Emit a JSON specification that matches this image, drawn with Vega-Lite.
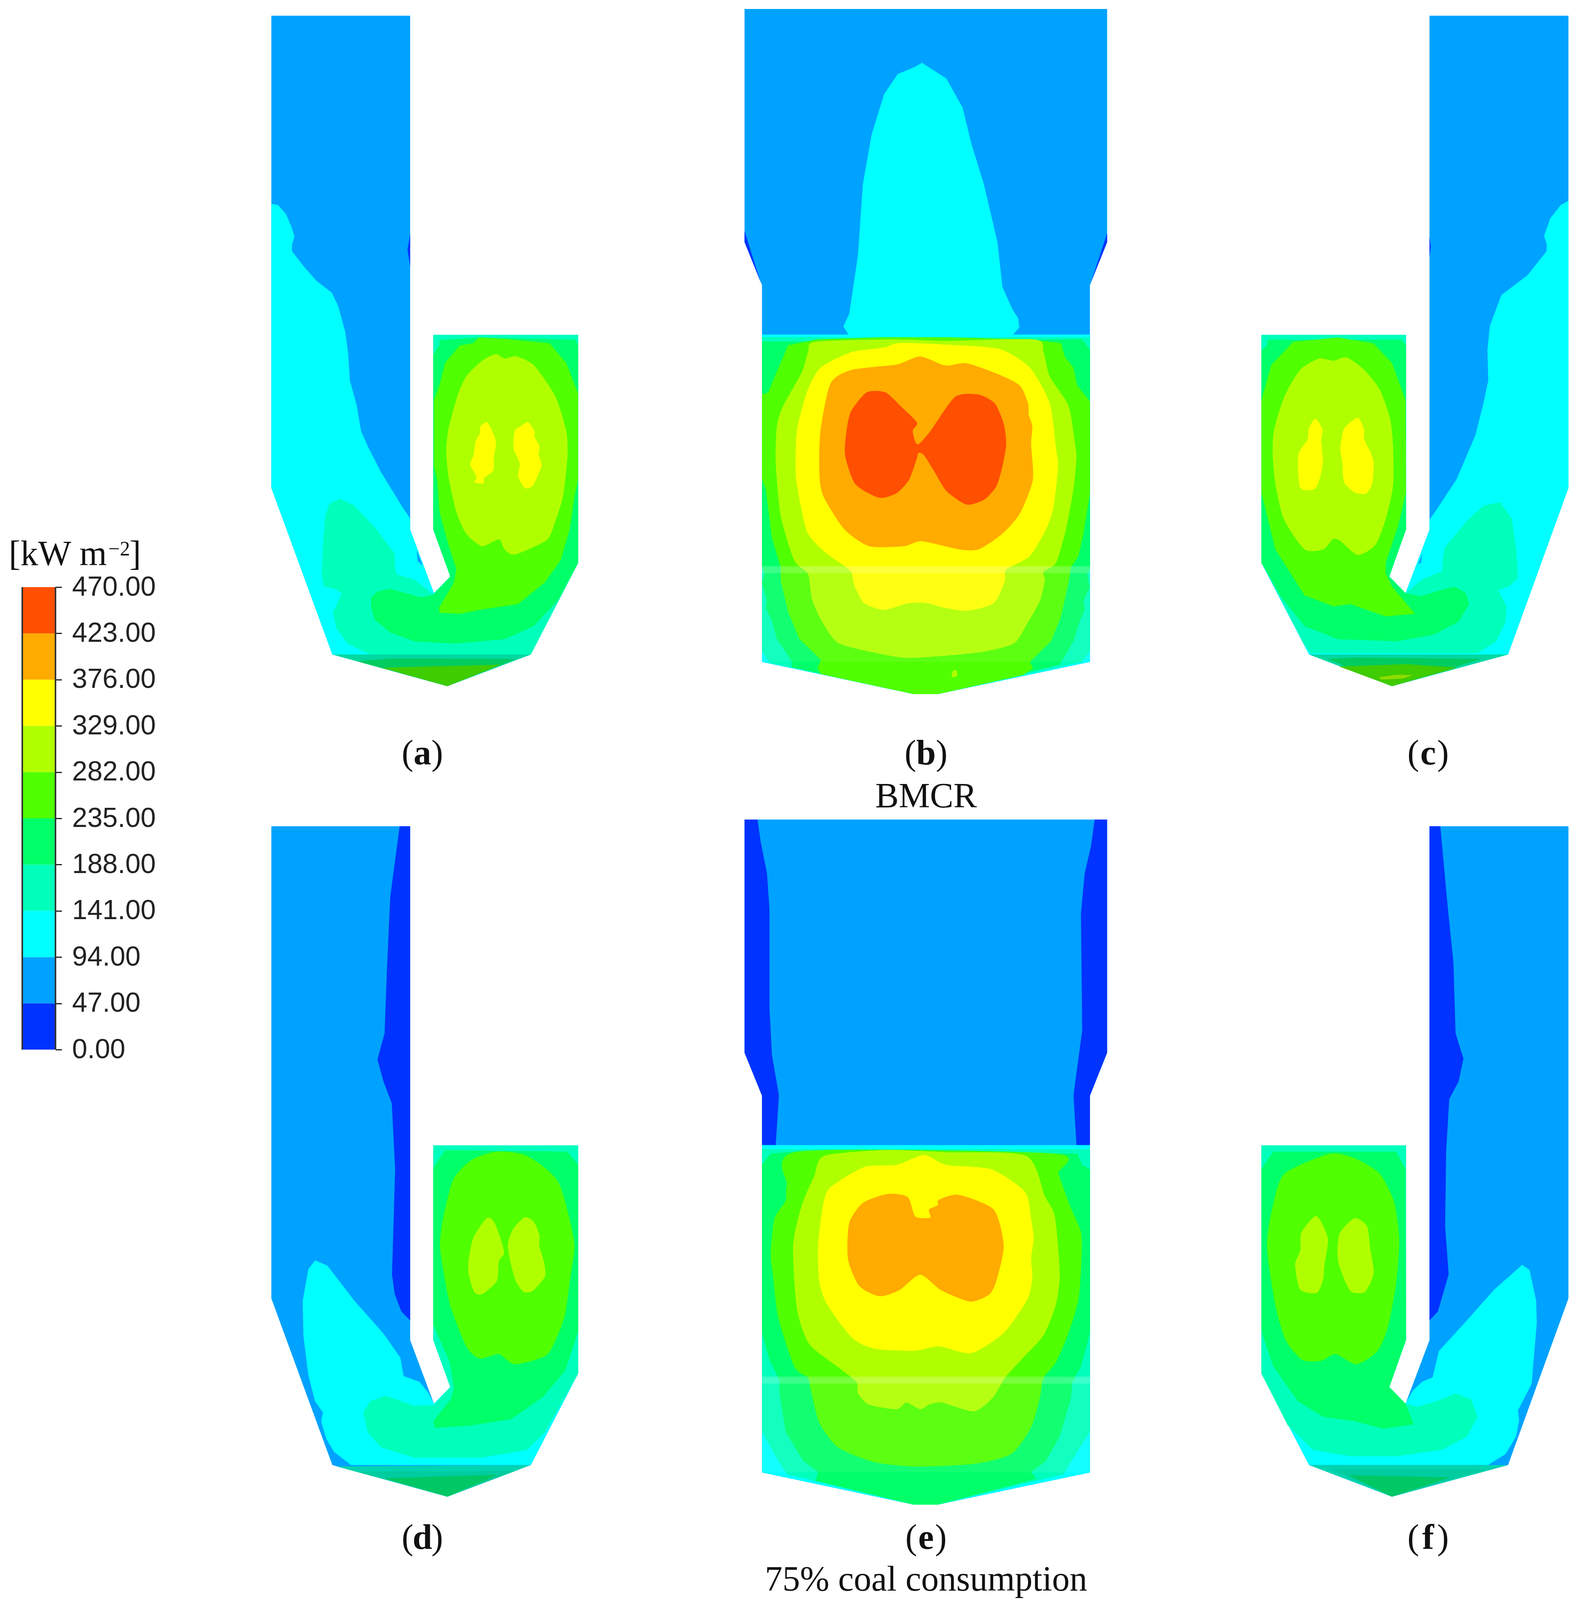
{"$schema":"https://vega.github.io/schema/vega-lite/v6.json","autosize":{"type":"none"},"padding":0,"width":4036,"height":4236,"background":"white","config":{"view":{"stroke":null}},
"datasets":{
"a":[
{"s":1,"l":"1","x":60,"y":18},{"s":1,"l":"1","x":679,"y":18},{"s":1,"l":"1","x":679,"y":1190},{"s":1,"l":"1","x":785,"y":1335},{"s":1,"l":"1","x":858,"y":1297},{"s":1,"l":"1","x":782,"y":1190},{"s":1,"l":"1","x":782,"y":746},{"s":1,"l":"1","x":1428,"y":746},{"s":1,"l":"1","x":1428,"y":1266},{"s":1,"l":"1","x":1217,"y":1475},{"s":1,"l":"1","x":845,"y":1547},{"s":1,"l":"1","x":332,"y":1475},{"s":1,"l":"1","x":60,"y":1095},
{"s":2,"l":"0","x":679,"y":515},{"s":2,"l":"0","x":667,"y":552},{"s":2,"l":"0","x":679,"y":590},
{"s":3,"l":"2","x":60,"y":447},{"s":3,"l":"2","x":90,"y":450},{"s":3,"l":"2","x":125,"y":470},{"s":3,"l":"2","x":150,"y":500},{"s":3,"l":"2","x":163,"y":522},{"s":3,"l":"2","x":152,"y":540},{"s":3,"l":"2","x":152,"y":555},{"s":3,"l":"2","x":205,"y":590},{"s":3,"l":"2","x":260,"y":622},{"s":3,"l":"2","x":330,"y":650},{"s":3,"l":"2","x":358,"y":680},{"s":3,"l":"2","x":390,"y":740},{"s":3,"l":"2","x":403,"y":790},{"s":3,"l":"2","x":410,"y":850},{"s":3,"l":"2","x":440,"y":905},{"s":3,"l":"2","x":460,"y":965},{"s":3,"l":"2","x":490,"y":1000},{"s":3,"l":"2","x":550,"y":1060},{"s":3,"l":"2","x":640,"y":1135},{"s":3,"l":"2","x":679,"y":1165},{"s":3,"l":"2","x":679,"y":1190},{"s":3,"l":"2","x":785,"y":1335},{"s":3,"l":"2","x":858,"y":1297},{"s":3,"l":"2","x":782,"y":1190},{"s":3,"l":"2","x":782,"y":746},{"s":3,"l":"2","x":1428,"y":746},{"s":3,"l":"2","x":1428,"y":1266},{"s":3,"l":"2","x":1217,"y":1475},{"s":3,"l":"2","x":845,"y":1547},{"s":3,"l":"2","x":332,"y":1475},{"s":3,"l":"2","x":60,"y":1095},
{"s":4,"l":"1","x":708,"y":1237},{"s":4,"l":"1","x":735,"y":1272},{"s":4,"l":"1","x":712,"y":1262},
{"s":5,"l":"3","x":300,"y":1160},{"s":5,"l":"3","x":320,"y":1130},{"s":5,"l":"3","x":365,"y":1120},{"s":5,"l":"3","x":430,"y":1135},{"s":5,"l":"3","x":530,"y":1190},{"s":5,"l":"3","x":610,"y":1245},{"s":5,"l":"3","x":612,"y":1280},{"s":5,"l":"3","x":620,"y":1292},{"s":5,"l":"3","x":700,"y":1305},{"s":5,"l":"3","x":775,"y":1335},{"s":5,"l":"3","x":785,"y":1335},{"s":5,"l":"3","x":858,"y":1297},{"s":5,"l":"3","x":782,"y":1190},{"s":5,"l":"3","x":782,"y":746},{"s":5,"l":"3","x":1428,"y":746},{"s":5,"l":"3","x":1428,"y":1266},{"s":5,"l":"3","x":1217,"y":1475},{"s":5,"l":"3","x":500,"y":1475},{"s":5,"l":"3","x":400,"y":1450},{"s":5,"l":"3","x":350,"y":1415},{"s":5,"l":"3","x":335,"y":1380},{"s":5,"l":"3","x":375,"y":1335},{"s":5,"l":"3","x":340,"y":1325},{"s":5,"l":"3","x":295,"y":1320},{"s":5,"l":"3","x":285,"y":1290},{"s":5,"l":"3","x":292,"y":1210},
{"s":6,"l":"4","x":505,"y":1345},{"s":6,"l":"4","x":530,"y":1332},{"s":6,"l":"4","x":590,"y":1325},{"s":6,"l":"4","x":660,"y":1335},{"s":6,"l":"4","x":730,"y":1345},{"s":6,"l":"4","x":785,"y":1338},{"s":6,"l":"4","x":858,"y":1297},{"s":6,"l":"4","x":782,"y":1190},{"s":6,"l":"4","x":782,"y":790},{"s":6,"l":"4","x":810,"y":770},{"s":6,"l":"4","x":810,"y":758},{"s":6,"l":"4","x":1000,"y":752},{"s":6,"l":"4","x":1415,"y":757},{"s":6,"l":"4","x":1428,"y":770},{"s":6,"l":"4","x":1428,"y":1266},{"s":6,"l":"4","x":1340,"y":1350},{"s":6,"l":"4","x":1230,"y":1410},{"s":6,"l":"4","x":1100,"y":1440},{"s":6,"l":"4","x":880,"y":1450},{"s":6,"l":"4","x":700,"y":1445},{"s":6,"l":"4","x":590,"y":1425},{"s":6,"l":"4","x":520,"y":1395},{"s":6,"l":"4","x":505,"y":1365},
{"s":7,"l":"5","x":785,"y":895},{"s":7,"l":"5","x":810,"y":860},{"s":7,"l":"5","x":835,"y":810},{"s":7,"l":"5","x":900,"y":770},{"s":7,"l":"5","x":960,"y":765},{"s":7,"l":"5","x":985,"y":752},{"s":7,"l":"5","x":1100,"y":755},{"s":7,"l":"5","x":1300,"y":765},{"s":7,"l":"5","x":1375,"y":810},{"s":7,"l":"5","x":1428,"y":880},{"s":7,"l":"5","x":1428,"y":1075},{"s":7,"l":"5","x":1410,"y":1120},{"s":7,"l":"5","x":1390,"y":1190},{"s":7,"l":"5","x":1350,"y":1260},{"s":7,"l":"5","x":1280,"y":1310},{"s":7,"l":"5","x":1160,"y":1360},{"s":7,"l":"5","x":1000,"y":1372},{"s":7,"l":"5","x":900,"y":1382},{"s":7,"l":"5","x":810,"y":1380},{"s":7,"l":"5","x":808,"y":1368},{"s":7,"l":"5","x":835,"y":1345},{"s":7,"l":"5","x":875,"y":1310},{"s":7,"l":"5","x":885,"y":1280},{"s":7,"l":"5","x":850,"y":1225},{"s":7,"l":"5","x":810,"y":1150},{"s":7,"l":"5","x":800,"y":1080},{"s":7,"l":"5","x":785,"y":1045},
{"s":8,"l":"6","x":1060,"y":790},{"s":8,"l":"6","x":1100,"y":800},{"s":8,"l":"6","x":1150,"y":795},{"s":8,"l":"6","x":1230,"y":815},{"s":8,"l":"6","x":1325,"y":885},{"s":8,"l":"6","x":1375,"y":965},{"s":8,"l":"6","x":1380,"y":1025},{"s":8,"l":"6","x":1360,"y":1115},{"s":8,"l":"6","x":1320,"y":1180},{"s":8,"l":"6","x":1285,"y":1215},{"s":8,"l":"6","x":1145,"y":1247},{"s":8,"l":"6","x":1100,"y":1235},{"s":8,"l":"6","x":1075,"y":1212},{"s":8,"l":"6","x":1000,"y":1228},{"s":8,"l":"6","x":930,"y":1200},{"s":8,"l":"6","x":885,"y":1150},{"s":8,"l":"6","x":850,"y":1070},{"s":8,"l":"6","x":840,"y":1010},{"s":8,"l":"6","x":850,"y":960},{"s":8,"l":"6","x":890,"y":885},{"s":8,"l":"6","x":930,"y":840},{"s":8,"l":"6","x":1000,"y":805},
{"s":9,"l":"7","x":1020,"y":945},{"s":9,"l":"7","x":1040,"y":960},{"s":9,"l":"7","x":1062,"y":990},{"s":9,"l":"7","x":1052,"y":1025},{"s":9,"l":"7","x":1050,"y":1055},{"s":9,"l":"7","x":1010,"y":1072},{"s":9,"l":"7","x":1005,"y":1085},{"s":9,"l":"7","x":965,"y":1082},{"s":9,"l":"7","x":975,"y":1070},{"s":9,"l":"7","x":947,"y":1042},{"s":9,"l":"7","x":962,"y":1020},{"s":9,"l":"7","x":970,"y":990},{"s":9,"l":"7","x":990,"y":970},{"s":9,"l":"7","x":992,"y":955},
{"s":10,"l":"7","x":1205,"y":945},{"s":10,"l":"7","x":1232,"y":965},{"s":10,"l":"7","x":1235,"y":980},{"s":10,"l":"7","x":1255,"y":1000},{"s":10,"l":"7","x":1252,"y":1020},{"s":10,"l":"7","x":1265,"y":1045},{"s":10,"l":"7","x":1225,"y":1090},{"s":10,"l":"7","x":1190,"y":1095},{"s":10,"l":"7","x":1160,"y":1068},{"s":10,"l":"7","x":1168,"y":1040},{"s":10,"l":"7","x":1140,"y":1005},{"s":10,"l":"7","x":1145,"y":965},{"s":10,"l":"7","x":1170,"y":955},
{"s":11,"l":"V0","x":332,"y":1475},{"s":11,"l":"V0","x":1217,"y":1475},{"s":11,"l":"V0","x":845,"y":1547},
{"s":12,"l":"V1","x":440,"y":1490},{"s":12,"l":"V1","x":600,"y":1484},{"s":12,"l":"V1","x":1150,"y":1485},{"s":12,"l":"V1","x":845,"y":1547},
{"s":13,"l":"V2","x":555,"y":1505},{"s":13,"l":"V2","x":1085,"y":1498},{"s":13,"l":"V2","x":845,"y":1547}
],
"b":[
{"s":1,"l":"1","x":40,"y":20},{"s":1,"l":"1","x":1495,"y":20},{"s":1,"l":"1","x":1495,"y":540},{"s":1,"l":"1","x":1426,"y":636},{"s":1,"l":"1","x":1426,"y":1476},{"s":1,"l":"1","x":815,"y":1548},{"s":1,"l":"1","x":720,"y":1548},{"s":1,"l":"1","x":110,"y":1476},{"s":1,"l":"1","x":110,"y":636},{"s":1,"l":"1","x":40,"y":540},
{"s":2,"l":"0","x":40,"y":515},{"s":2,"l":"0","x":105,"y":630},{"s":2,"l":"0","x":40,"y":540},
{"s":3,"l":"0","x":1495,"y":520},{"s":3,"l":"0","x":1430,"y":630},{"s":3,"l":"0","x":1495,"y":540},
{"s":4,"l":"2","x":752,"y":140},{"s":4,"l":"2","x":850,"y":175},{"s":4,"l":"2","x":915,"y":240},{"s":4,"l":"2","x":950,"y":320},{"s":4,"l":"2","x":1000,"y":410},{"s":4,"l":"2","x":1055,"y":540},{"s":4,"l":"2","x":1075,"y":640},{"s":4,"l":"2","x":1115,"y":690},{"s":4,"l":"2","x":1138,"y":710},{"s":4,"l":"2","x":1143,"y":730},{"s":4,"l":"2","x":1115,"y":748},{"s":4,"l":"2","x":460,"y":748},{"s":4,"l":"2","x":436,"y":728},{"s":4,"l":"2","x":460,"y":700},{"s":4,"l":"2","x":495,"y":570},{"s":4,"l":"2","x":515,"y":410},{"s":4,"l":"2","x":550,"y":300},{"s":4,"l":"2","x":600,"y":210},{"s":4,"l":"2","x":655,"y":165},{"s":4,"l":"2","x":720,"y":150},
{"s":5,"l":"2","x":110,"y":746},{"s":5,"l":"2","x":1426,"y":746},{"s":5,"l":"2","x":1426,"y":1476},{"s":5,"l":"2","x":815,"y":1548},{"s":5,"l":"2","x":720,"y":1548},{"s":5,"l":"2","x":110,"y":1476},
{"s":6,"l":"3","x":110,"y":752},{"s":6,"l":"3","x":1426,"y":752},{"s":6,"l":"3","x":1426,"y":1452},{"s":6,"l":"3","x":1395,"y":1476},{"s":6,"l":"3","x":815,"y":1548},{"s":6,"l":"3","x":720,"y":1548},{"s":6,"l":"3","x":140,"y":1478},{"s":6,"l":"3","x":110,"y":1452},
{"s":7,"l":"4","x":110,"y":762},{"s":7,"l":"4","x":1395,"y":757},{"s":7,"l":"4","x":1426,"y":780},{"s":7,"l":"4","x":1426,"y":1270},{"s":7,"l":"4","x":1415,"y":1280},{"s":7,"l":"4","x":1425,"y":1310},{"s":7,"l":"4","x":1400,"y":1340},{"s":7,"l":"4","x":1405,"y":1360},{"s":7,"l":"4","x":1385,"y":1385},{"s":7,"l":"4","x":1360,"y":1430},{"s":7,"l":"4","x":1305,"y":1482},{"s":7,"l":"4","x":815,"y":1548},{"s":7,"l":"4","x":720,"y":1548},{"s":7,"l":"4","x":230,"y":1488},{"s":7,"l":"4","x":230,"y":1475},{"s":7,"l":"4","x":170,"y":1425},{"s":7,"l":"4","x":150,"y":1385},{"s":7,"l":"4","x":125,"y":1355},{"s":7,"l":"4","x":130,"y":1340},{"s":7,"l":"4","x":110,"y":1300},{"s":7,"l":"4","x":120,"y":1280},{"s":7,"l":"4","x":110,"y":1265},
{"s":8,"l":"5","x":110,"y":880},{"s":8,"l":"5","x":135,"y":875},{"s":8,"l":"5","x":165,"y":835},{"s":8,"l":"5","x":215,"y":770},{"s":8,"l":"5","x":330,"y":757},{"s":8,"l":"5","x":600,"y":752},{"s":8,"l":"5","x":850,"y":752},{"s":8,"l":"5","x":1180,"y":757},{"s":8,"l":"5","x":1310,"y":765},{"s":8,"l":"5","x":1325,"y":795},{"s":8,"l":"5","x":1360,"y":820},{"s":8,"l":"5","x":1375,"y":860},{"s":8,"l":"5","x":1426,"y":895},{"s":8,"l":"5","x":1426,"y":1100},{"s":8,"l":"5","x":1400,"y":1190},{"s":8,"l":"5","x":1380,"y":1240},{"s":8,"l":"5","x":1350,"y":1265},{"s":8,"l":"5","x":1340,"y":1300},{"s":8,"l":"5","x":1310,"y":1375},{"s":8,"l":"5","x":1270,"y":1430},{"s":8,"l":"5","x":1185,"y":1476},{"s":8,"l":"5","x":1198,"y":1490},{"s":8,"l":"5","x":1160,"y":1505},{"s":8,"l":"5","x":815,"y":1548},{"s":8,"l":"5","x":720,"y":1548},{"s":8,"l":"5","x":345,"y":1503},{"s":8,"l":"5","x":333,"y":1488},{"s":8,"l":"5","x":347,"y":1472},{"s":8,"l":"5","x":260,"y":1425},{"s":8,"l":"5","x":215,"y":1365},{"s":8,"l":"5","x":185,"y":1295},{"s":8,"l":"5","x":185,"y":1265},{"s":8,"l":"5","x":150,"y":1200},{"s":8,"l":"5","x":125,"y":1090},{"s":8,"l":"5","x":110,"y":1070},
{"s":9,"l":"6","x":295,"y":785},{"s":9,"l":"6","x":325,"y":762},{"s":9,"l":"6","x":640,"y":757},{"s":9,"l":"6","x":850,"y":760},{"s":9,"l":"6","x":1205,"y":757},{"s":9,"l":"6","x":1240,"y":785},{"s":9,"l":"6","x":1265,"y":840},{"s":9,"l":"6","x":1340,"y":905},{"s":9,"l":"6","x":1365,"y":985},{"s":9,"l":"6","x":1372,"y":1020},{"s":9,"l":"6","x":1360,"y":1090},{"s":9,"l":"6","x":1330,"y":1180},{"s":9,"l":"6","x":1290,"y":1255},{"s":9,"l":"6","x":1240,"y":1275},{"s":9,"l":"6","x":1245,"y":1295},{"s":9,"l":"6","x":1225,"y":1340},{"s":9,"l":"6","x":1175,"y":1390},{"s":9,"l":"6","x":1120,"y":1435},{"s":9,"l":"6","x":980,"y":1455},{"s":9,"l":"6","x":725,"y":1467},{"s":9,"l":"6","x":620,"y":1462},{"s":9,"l":"6","x":420,"y":1435},{"s":9,"l":"6","x":350,"y":1385},{"s":9,"l":"6","x":310,"y":1335},{"s":9,"l":"6","x":295,"y":1280},{"s":9,"l":"6","x":240,"y":1250},{"s":9,"l":"6","x":185,"y":1150},{"s":9,"l":"6","x":165,"y":1030},{"s":9,"l":"6","x":170,"y":950},{"s":9,"l":"6","x":195,"y":905},{"s":9,"l":"6","x":270,"y":830},
{"s":10,"l":"7","x":660,"y":765},{"s":10,"l":"7","x":830,"y":768},{"s":10,"l":"7","x":1060,"y":778},{"s":10,"l":"7","x":1185,"y":820},{"s":10,"l":"7","x":1265,"y":900},{"s":10,"l":"7","x":1290,"y":1000},{"s":10,"l":"7","x":1298,"y":1040},{"s":10,"l":"7","x":1280,"y":1130},{"s":10,"l":"7","x":1250,"y":1180},{"s":10,"l":"7","x":1185,"y":1240},{"s":10,"l":"7","x":1090,"y":1270},{"s":10,"l":"7","x":1085,"y":1295},{"s":10,"l":"7","x":1040,"y":1345},{"s":10,"l":"7","x":935,"y":1362},{"s":10,"l":"7","x":840,"y":1355},{"s":10,"l":"7","x":770,"y":1345},{"s":10,"l":"7","x":700,"y":1345},{"s":10,"l":"7","x":600,"y":1360},{"s":10,"l":"7","x":520,"y":1345},{"s":10,"l":"7","x":480,"y":1305},{"s":10,"l":"7","x":470,"y":1278},{"s":10,"l":"7","x":440,"y":1262},{"s":10,"l":"7","x":360,"y":1230},{"s":10,"l":"7","x":290,"y":1185},{"s":10,"l":"7","x":250,"y":1080},{"s":10,"l":"7","x":245,"y":1040},{"s":10,"l":"7","x":250,"y":960},{"s":10,"l":"7","x":290,"y":875},{"s":10,"l":"7","x":345,"y":820},{"s":10,"l":"7","x":470,"y":785},{"s":10,"l":"7","x":600,"y":775},
{"s":11,"l":"8","x":745,"y":795},{"s":11,"l":"8","x":845,"y":815},{"s":11,"l":"8","x":930,"y":810},{"s":11,"l":"8","x":1060,"y":835},{"s":11,"l":"8","x":1145,"y":860},{"s":11,"l":"8","x":1178,"y":900},{"s":11,"l":"8","x":1180,"y":925},{"s":11,"l":"8","x":1195,"y":950},{"s":11,"l":"8","x":1190,"y":990},{"s":11,"l":"8","x":1197,"y":1070},{"s":11,"l":"8","x":1145,"y":1145},{"s":11,"l":"8","x":1075,"y":1190},{"s":11,"l":"8","x":980,"y":1225},{"s":11,"l":"8","x":900,"y":1225},{"s":11,"l":"8","x":750,"y":1207},{"s":11,"l":"8","x":680,"y":1218},{"s":11,"l":"8","x":540,"y":1218},{"s":11,"l":"8","x":440,"y":1180},{"s":11,"l":"8","x":355,"y":1105},{"s":11,"l":"8","x":340,"y":1050},{"s":11,"l":"8","x":345,"y":960},{"s":11,"l":"8","x":385,"y":855},{"s":11,"l":"8","x":470,"y":825},{"s":11,"l":"8","x":650,"y":813},
{"s":12,"l":"9","x":530,"y":875},{"s":12,"l":"9","x":605,"y":875},{"s":12,"l":"9","x":665,"y":905},{"s":12,"l":"9","x":732,"y":942},{"s":12,"l":"9","x":715,"y":960},{"s":12,"l":"9","x":725,"y":985},{"s":12,"l":"9","x":740,"y":990},{"s":12,"l":"9","x":785,"y":962},{"s":12,"l":"9","x":885,"y":885},{"s":12,"l":"9","x":980,"y":880},{"s":12,"l":"9","x":1045,"y":900},{"s":12,"l":"9","x":1080,"y":945},{"s":12,"l":"9","x":1090,"y":990},{"s":12,"l":"9","x":1075,"y":1040},{"s":12,"l":"9","x":1050,"y":1085},{"s":12,"l":"9","x":1000,"y":1115},{"s":12,"l":"9","x":930,"y":1125},{"s":12,"l":"9","x":850,"y":1095},{"s":12,"l":"9","x":800,"y":1050},{"s":12,"l":"9","x":760,"y":1015},{"s":12,"l":"9","x":738,"y":1010},{"s":12,"l":"9","x":730,"y":1025},{"s":12,"l":"9","x":700,"y":1070},{"s":12,"l":"9","x":650,"y":1100},{"s":12,"l":"9","x":580,"y":1110},{"s":12,"l":"9","x":485,"y":1080},{"s":12,"l":"9","x":445,"y":1020},{"s":12,"l":"9","x":445,"y":980},{"s":12,"l":"9","x":465,"y":920},
{"s":13,"l":"6","x":875,"y":1497},{"s":13,"l":"6","x":890,"y":1495},{"s":13,"l":"6","x":893,"y":1507},{"s":13,"l":"6","x":872,"y":1510}
],
"c":[
{"s":1,"l":"1","x":860,"y":18},{"s":1,"l":"1","x":1527,"y":18},{"s":1,"l":"1","x":1527,"y":1095},{"s":1,"l":"1","x":1237,"y":1475},{"s":1,"l":"1","x":680,"y":1547},{"s":1,"l":"1","x":282,"y":1475},{"s":1,"l":"1","x":53,"y":1266},{"s":1,"l":"1","x":53,"y":746},{"s":1,"l":"1","x":747,"y":746},{"s":1,"l":"1","x":747,"y":1190},{"s":1,"l":"1","x":667,"y":1297},{"s":1,"l":"1","x":745,"y":1335},{"s":1,"l":"1","x":860,"y":1190},
{"s":2,"l":"0","x":860,"y":522},{"s":2,"l":"0","x":867,"y":545},{"s":2,"l":"0","x":860,"y":568},
{"s":3,"l":"2","x":1527,"y":440},{"s":3,"l":"2","x":1490,"y":450},{"s":3,"l":"2","x":1440,"y":480},{"s":3,"l":"2","x":1410,"y":520},{"s":3,"l":"2","x":1423,"y":540},{"s":3,"l":"2","x":1422,"y":555},{"s":3,"l":"2","x":1330,"y":610},{"s":3,"l":"2","x":1205,"y":655},{"s":3,"l":"2","x":1150,"y":725},{"s":3,"l":"2","x":1138,"y":780},{"s":3,"l":"2","x":1142,"y":850},{"s":3,"l":"2","x":1120,"y":900},{"s":3,"l":"2","x":1080,"y":975},{"s":3,"l":"2","x":990,"y":1075},{"s":3,"l":"2","x":900,"y":1140},{"s":3,"l":"2","x":860,"y":1168},{"s":3,"l":"2","x":860,"y":1190},{"s":3,"l":"2","x":745,"y":1335},{"s":3,"l":"2","x":667,"y":1297},{"s":3,"l":"2","x":747,"y":1190},{"s":3,"l":"2","x":747,"y":746},{"s":3,"l":"2","x":53,"y":746},{"s":3,"l":"2","x":53,"y":1266},{"s":3,"l":"2","x":282,"y":1475},{"s":3,"l":"2","x":680,"y":1547},{"s":3,"l":"2","x":1237,"y":1475},{"s":3,"l":"2","x":1527,"y":1095},
{"s":4,"l":"1","x":805,"y":1270},{"s":4,"l":"1","x":825,"y":1245},{"s":4,"l":"1","x":820,"y":1265},
{"s":5,"l":"3","x":935,"y":1230},{"s":5,"l":"3","x":1040,"y":1170},{"s":5,"l":"3","x":1120,"y":1135},{"s":5,"l":"3","x":1200,"y":1128},{"s":5,"l":"3","x":1255,"y":1165},{"s":5,"l":"3","x":1275,"y":1230},{"s":5,"l":"3","x":1285,"y":1300},{"s":5,"l":"3","x":1240,"y":1320},{"s":5,"l":"3","x":1190,"y":1328},{"s":5,"l":"3","x":1230,"y":1365},{"s":5,"l":"3","x":1225,"y":1400},{"s":5,"l":"3","x":1180,"y":1445},{"s":5,"l":"3","x":1090,"y":1472},{"s":5,"l":"3","x":290,"y":1472},{"s":5,"l":"3","x":258,"y":1452},{"s":5,"l":"3","x":60,"y":1270},{"s":5,"l":"3","x":53,"y":1266},{"s":5,"l":"3","x":53,"y":746},{"s":5,"l":"3","x":747,"y":746},{"s":5,"l":"3","x":747,"y":1190},{"s":5,"l":"3","x":667,"y":1297},{"s":5,"l":"3","x":745,"y":1335},{"s":5,"l":"3","x":820,"y":1305},{"s":5,"l":"3","x":920,"y":1285},{"s":5,"l":"3","x":925,"y":1250},
{"s":6,"l":"4","x":1050,"y":1360},{"s":6,"l":"4","x":1035,"y":1335},{"s":6,"l":"4","x":980,"y":1320},{"s":6,"l":"4","x":900,"y":1330},{"s":6,"l":"4","x":820,"y":1342},{"s":6,"l":"4","x":745,"y":1335},{"s":6,"l":"4","x":667,"y":1297},{"s":6,"l":"4","x":747,"y":1190},{"s":6,"l":"4","x":747,"y":770},{"s":6,"l":"4","x":725,"y":757},{"s":6,"l":"4","x":85,"y":757},{"s":6,"l":"4","x":80,"y":770},{"s":6,"l":"4","x":53,"y":782},{"s":6,"l":"4","x":53,"y":1266},{"s":6,"l":"4","x":150,"y":1345},{"s":6,"l":"4","x":260,"y":1410},{"s":6,"l":"4","x":420,"y":1440},{"s":6,"l":"4","x":700,"y":1445},{"s":6,"l":"4","x":880,"y":1430},{"s":6,"l":"4","x":1000,"y":1400},
{"s":7,"l":"5","x":53,"y":895},{"s":7,"l":"5","x":100,"y":815},{"s":7,"l":"5","x":205,"y":762},{"s":7,"l":"5","x":420,"y":752},{"s":7,"l":"5","x":590,"y":765},{"s":7,"l":"5","x":680,"y":810},{"s":7,"l":"5","x":745,"y":895},{"s":7,"l":"5","x":747,"y":1105},{"s":7,"l":"5","x":710,"y":1180},{"s":7,"l":"5","x":650,"y":1265},{"s":7,"l":"5","x":650,"y":1290},{"s":7,"l":"5","x":680,"y":1320},{"s":7,"l":"5","x":790,"y":1382},{"s":7,"l":"5","x":650,"y":1388},{"s":7,"l":"5","x":480,"y":1360},{"s":7,"l":"5","x":400,"y":1365},{"s":7,"l":"5","x":260,"y":1340},{"s":7,"l":"5","x":120,"y":1235},{"s":7,"l":"5","x":53,"y":1105},
{"s":8,"l":"6","x":400,"y":805},{"s":8,"l":"6","x":460,"y":797},{"s":8,"l":"6","x":545,"y":825},{"s":8,"l":"6","x":620,"y":870},{"s":8,"l":"6","x":670,"y":935},{"s":8,"l":"6","x":685,"y":1000},{"s":8,"l":"6","x":685,"y":1090},{"s":8,"l":"6","x":650,"y":1165},{"s":8,"l":"6","x":600,"y":1225},{"s":8,"l":"6","x":515,"y":1248},{"s":8,"l":"6","x":430,"y":1215},{"s":8,"l":"6","x":395,"y":1212},{"s":8,"l":"6","x":350,"y":1235},{"s":8,"l":"6","x":260,"y":1235},{"s":8,"l":"6","x":160,"y":1165},{"s":8,"l":"6","x":120,"y":1085},{"s":8,"l":"6","x":107,"y":1015},{"s":8,"l":"6","x":115,"y":960},{"s":8,"l":"6","x":165,"y":885},{"s":8,"l":"6","x":240,"y":825},{"s":8,"l":"6","x":330,"y":800},
{"s":9,"l":"7","x":312,"y":937},{"s":9,"l":"7","x":347,"y":962},{"s":9,"l":"7","x":340,"y":985},{"s":9,"l":"7","x":348,"y":1040},{"s":9,"l":"7","x":315,"y":1095},{"s":9,"l":"7","x":240,"y":1095},{"s":9,"l":"7","x":230,"y":1020},{"s":9,"l":"7","x":275,"y":985},{"s":9,"l":"7","x":280,"y":960},
{"s":10,"l":"7","x":515,"y":935},{"s":10,"l":"7","x":545,"y":960},{"s":10,"l":"7","x":547,"y":985},{"s":10,"l":"7","x":578,"y":1015},{"s":10,"l":"7","x":592,"y":1040},{"s":10,"l":"7","x":585,"y":1085},{"s":10,"l":"7","x":555,"y":1108},{"s":10,"l":"7","x":500,"y":1105},{"s":10,"l":"7","x":450,"y":1082},{"s":10,"l":"7","x":442,"y":1040},{"s":10,"l":"7","x":432,"y":1005},{"s":10,"l":"7","x":450,"y":960},
{"s":11,"l":"V0","x":282,"y":1475},{"s":11,"l":"V0","x":1237,"y":1475},{"s":11,"l":"V0","x":680,"y":1547},
{"s":12,"l":"V1","x":370,"y":1485},{"s":12,"l":"V1","x":500,"y":1482},{"s":12,"l":"V1","x":1110,"y":1485},{"s":12,"l":"V1","x":680,"y":1547},
{"s":13,"l":"V2","x":425,"y":1502},{"s":13,"l":"V2","x":750,"y":1497},{"s":13,"l":"V2","x":990,"y":1505},{"s":13,"l":"V2","x":680,"y":1547},
{"s":14,"l":"VY","x":615,"y":1527},{"s":14,"l":"VY","x":700,"y":1521},{"s":14,"l":"VY","x":780,"y":1522},{"s":14,"l":"VY","x":730,"y":1530},{"s":14,"l":"VY","x":630,"y":1532}
],
"d":[
{"s":1,"l":"1","x":60,"y":18},{"s":1,"l":"1","x":679,"y":18},{"s":1,"l":"1","x":679,"y":1190},{"s":1,"l":"1","x":785,"y":1335},{"s":1,"l":"1","x":858,"y":1297},{"s":1,"l":"1","x":782,"y":1190},{"s":1,"l":"1","x":782,"y":746},{"s":1,"l":"1","x":1428,"y":746},{"s":1,"l":"1","x":1428,"y":1266},{"s":1,"l":"1","x":1217,"y":1475},{"s":1,"l":"1","x":845,"y":1547},{"s":1,"l":"1","x":332,"y":1475},{"s":1,"l":"1","x":60,"y":1095},
{"s":2,"l":"0","x":632,"y":18},{"s":2,"l":"0","x":679,"y":18},{"s":2,"l":"0","x":679,"y":1145},{"s":2,"l":"0","x":640,"y":1125},{"s":2,"l":"0","x":610,"y":1085},{"s":2,"l":"0","x":598,"y":1040},{"s":2,"l":"0","x":605,"y":920},{"s":2,"l":"0","x":612,"y":800},{"s":2,"l":"0","x":597,"y":650},{"s":2,"l":"0","x":560,"y":600},{"s":2,"l":"0","x":533,"y":550},{"s":2,"l":"0","x":565,"y":490},{"s":2,"l":"0","x":575,"y":350},{"s":2,"l":"0","x":590,"y":180},
{"s":3,"l":"2","x":255,"y":1008},{"s":3,"l":"2","x":310,"y":1020},{"s":3,"l":"2","x":430,"y":1100},{"s":3,"l":"2","x":560,"y":1175},{"s":3,"l":"2","x":635,"y":1230},{"s":3,"l":"2","x":650,"y":1272},{"s":3,"l":"2","x":720,"y":1285},{"s":3,"l":"2","x":760,"y":1310},{"s":3,"l":"2","x":785,"y":1335},{"s":3,"l":"2","x":858,"y":1297},{"s":3,"l":"2","x":782,"y":1190},{"s":3,"l":"2","x":782,"y":746},{"s":3,"l":"2","x":1428,"y":746},{"s":3,"l":"2","x":1428,"y":1266},{"s":3,"l":"2","x":1217,"y":1475},{"s":3,"l":"2","x":415,"y":1475},{"s":3,"l":"2","x":340,"y":1445},{"s":3,"l":"2","x":305,"y":1415},{"s":3,"l":"2","x":282,"y":1375},{"s":3,"l":"2","x":290,"y":1355},{"s":3,"l":"2","x":255,"y":1330},{"s":3,"l":"2","x":225,"y":1270},{"s":3,"l":"2","x":203,"y":1180},{"s":3,"l":"2","x":200,"y":1100},{"s":3,"l":"2","x":225,"y":1028},
{"s":4,"l":"3","x":470,"y":1355},{"s":4,"l":"3","x":500,"y":1330},{"s":4,"l":"3","x":570,"y":1317},{"s":4,"l":"3","x":700,"y":1340},{"s":4,"l":"3","x":785,"y":1338},{"s":4,"l":"3","x":858,"y":1297},{"s":4,"l":"3","x":782,"y":1190},{"s":4,"l":"3","x":782,"y":746},{"s":4,"l":"3","x":1428,"y":746},{"s":4,"l":"3","x":1428,"y":1266},{"s":4,"l":"3","x":1280,"y":1400},{"s":4,"l":"3","x":1200,"y":1440},{"s":4,"l":"3","x":1000,"y":1458},{"s":4,"l":"3","x":700,"y":1458},{"s":4,"l":"3","x":550,"y":1435},{"s":4,"l":"3","x":490,"y":1400},
{"s":5,"l":"4","x":782,"y":797},{"s":5,"l":"4","x":835,"y":757},{"s":5,"l":"4","x":1380,"y":760},{"s":5,"l":"4","x":1428,"y":790},{"s":5,"l":"4","x":1428,"y":1170},{"s":5,"l":"4","x":1370,"y":1260},{"s":5,"l":"4","x":1270,"y":1320},{"s":5,"l":"4","x":1130,"y":1370},{"s":5,"l":"4","x":950,"y":1385},{"s":5,"l":"4","x":790,"y":1390},{"s":5,"l":"4","x":782,"y":1375},{"s":5,"l":"4","x":860,"y":1325},{"s":5,"l":"4","x":875,"y":1300},{"s":5,"l":"4","x":855,"y":1240},{"s":5,"l":"4","x":782,"y":1155},
{"s":6,"l":"5","x":870,"y":825},{"s":6,"l":"5","x":950,"y":780},{"s":6,"l":"5","x":1065,"y":760},{"s":6,"l":"5","x":1200,"y":770},{"s":6,"l":"5","x":1340,"y":830},{"s":6,"l":"5","x":1410,"y":965},{"s":6,"l":"5","x":1395,"y":1040},{"s":6,"l":"5","x":1370,"y":1130},{"s":6,"l":"5","x":1340,"y":1175},{"s":6,"l":"5","x":1285,"y":1225},{"s":6,"l":"5","x":1145,"y":1245},{"s":6,"l":"5","x":1075,"y":1222},{"s":6,"l":"5","x":990,"y":1232},{"s":6,"l":"5","x":930,"y":1205},{"s":6,"l":"5","x":860,"y":1115},{"s":6,"l":"5","x":830,"y":1040},{"s":6,"l":"5","x":812,"y":975},{"s":6,"l":"5","x":825,"y":915},
{"s":7,"l":"6","x":1020,"y":912},{"s":7,"l":"6","x":1055,"y":922},{"s":7,"l":"6","x":1098,"y":988},{"s":7,"l":"6","x":1075,"y":1010},{"s":7,"l":"6","x":1065,"y":1055},{"s":7,"l":"6","x":1000,"y":1085},{"s":7,"l":"6","x":965,"y":1080},{"s":7,"l":"6","x":940,"y":1040},{"s":7,"l":"6","x":940,"y":1005},{"s":7,"l":"6","x":962,"y":955},
{"s":8,"l":"6","x":1190,"y":910},{"s":8,"l":"6","x":1230,"y":920},{"s":8,"l":"6","x":1255,"y":950},{"s":8,"l":"6","x":1255,"y":975},{"s":8,"l":"6","x":1275,"y":1010},{"s":8,"l":"6","x":1280,"y":1045},{"s":8,"l":"6","x":1225,"y":1078},{"s":8,"l":"6","x":1185,"y":1080},{"s":8,"l":"6","x":1150,"y":1055},{"s":8,"l":"6","x":1125,"y":1010},{"s":8,"l":"6","x":1115,"y":970},{"s":8,"l":"6","x":1140,"y":935},
{"s":9,"l":"D0","x":350,"y":1478},{"s":9,"l":"D0","x":1217,"y":1475},{"s":9,"l":"D0","x":845,"y":1547},
{"s":10,"l":"D1","x":445,"y":1490},{"s":10,"l":"D1","x":1150,"y":1488},{"s":10,"l":"D1","x":845,"y":1547},
{"s":11,"l":"D2","x":565,"y":1505},{"s":11,"l":"D2","x":1070,"y":1497},{"s":11,"l":"D2","x":845,"y":1547}
],
"e":[
{"s":1,"l":"1","x":40,"y":20},{"s":1,"l":"1","x":1495,"y":20},{"s":1,"l":"1","x":1495,"y":540},{"s":1,"l":"1","x":1426,"y":636},{"s":1,"l":"1","x":1426,"y":1476},{"s":1,"l":"1","x":815,"y":1548},{"s":1,"l":"1","x":720,"y":1548},{"s":1,"l":"1","x":110,"y":1476},{"s":1,"l":"1","x":110,"y":636},{"s":1,"l":"1","x":40,"y":540},
{"s":2,"l":"0","x":40,"y":20},{"s":2,"l":"0","x":92,"y":20},{"s":2,"l":"0","x":105,"y":70},{"s":2,"l":"0","x":130,"y":140},{"s":2,"l":"0","x":140,"y":220},{"s":2,"l":"0","x":140,"y":440},{"s":2,"l":"0","x":150,"y":545},{"s":2,"l":"0","x":178,"y":635},{"s":2,"l":"0","x":165,"y":746},{"s":2,"l":"0","x":110,"y":746},{"s":2,"l":"0","x":110,"y":636},{"s":2,"l":"0","x":40,"y":540},
{"s":3,"l":"0","x":1495,"y":20},{"s":3,"l":"0","x":1445,"y":20},{"s":3,"l":"0","x":1430,"y":80},{"s":3,"l":"0","x":1405,"y":140},{"s":3,"l":"0","x":1390,"y":230},{"s":3,"l":"0","x":1395,"y":490},{"s":3,"l":"0","x":1360,"y":635},{"s":3,"l":"0","x":1372,"y":746},{"s":3,"l":"0","x":1426,"y":746},{"s":3,"l":"0","x":1426,"y":636},{"s":3,"l":"0","x":1495,"y":540},
{"s":4,"l":"2","x":110,"y":746},{"s":4,"l":"2","x":1426,"y":746},{"s":4,"l":"2","x":1426,"y":1476},{"s":4,"l":"2","x":815,"y":1548},{"s":4,"l":"2","x":720,"y":1548},{"s":4,"l":"2","x":110,"y":1476},
{"s":5,"l":"3","x":110,"y":755},{"s":5,"l":"3","x":1426,"y":755},{"s":5,"l":"3","x":1426,"y":1385},{"s":5,"l":"3","x":1375,"y":1430},{"s":5,"l":"3","x":1320,"y":1480},{"s":5,"l":"3","x":815,"y":1548},{"s":5,"l":"3","x":720,"y":1548},{"s":5,"l":"3","x":210,"y":1480},{"s":5,"l":"3","x":165,"y":1440},{"s":5,"l":"3","x":110,"y":1385},
{"s":6,"l":"4","x":110,"y":790},{"s":6,"l":"4","x":145,"y":765},{"s":6,"l":"4","x":260,"y":760},{"s":6,"l":"4","x":1375,"y":765},{"s":6,"l":"4","x":1395,"y":790},{"s":6,"l":"4","x":1426,"y":800},{"s":6,"l":"4","x":1426,"y":1165},{"s":6,"l":"4","x":1390,"y":1240},{"s":6,"l":"4","x":1355,"y":1275},{"s":6,"l":"4","x":1350,"y":1310},{"s":6,"l":"4","x":1305,"y":1395},{"s":6,"l":"4","x":1250,"y":1450},{"s":6,"l":"4","x":1190,"y":1475},{"s":6,"l":"4","x":1210,"y":1490},{"s":6,"l":"4","x":815,"y":1548},{"s":6,"l":"4","x":720,"y":1548},{"s":6,"l":"4","x":325,"y":1495},{"s":6,"l":"4","x":335,"y":1475},{"s":6,"l":"4","x":275,"y":1450},{"s":6,"l":"4","x":205,"y":1385},{"s":6,"l":"4","x":180,"y":1300},{"s":6,"l":"4","x":180,"y":1270},{"s":6,"l":"4","x":140,"y":1225},{"s":6,"l":"4","x":110,"y":1165},
{"s":7,"l":"5","x":260,"y":760},{"s":7,"l":"5","x":1285,"y":765},{"s":7,"l":"5","x":1300,"y":810},{"s":7,"l":"5","x":1345,"y":880},{"s":7,"l":"5","x":1390,"y":940},{"s":7,"l":"5","x":1392,"y":1000},{"s":7,"l":"5","x":1380,"y":1090},{"s":7,"l":"5","x":1340,"y":1165},{"s":7,"l":"5","x":1290,"y":1230},{"s":7,"l":"5","x":1240,"y":1265},{"s":7,"l":"5","x":1225,"y":1310},{"s":7,"l":"5","x":1190,"y":1375},{"s":7,"l":"5","x":1110,"y":1435},{"s":7,"l":"5","x":960,"y":1457},{"s":7,"l":"5","x":730,"y":1463},{"s":7,"l":"5","x":560,"y":1453},{"s":7,"l":"5","x":415,"y":1420},{"s":7,"l":"5","x":340,"y":1365},{"s":7,"l":"5","x":305,"y":1290},{"s":7,"l":"5","x":295,"y":1265},{"s":7,"l":"5","x":240,"y":1240},{"s":7,"l":"5","x":175,"y":1130},{"s":7,"l":"5","x":155,"y":1040},{"s":7,"l":"5","x":145,"y":990},{"s":7,"l":"5","x":160,"y":910},{"s":7,"l":"5","x":205,"y":870},{"s":7,"l":"5","x":210,"y":835},
{"s":8,"l":"6","x":360,"y":770},{"s":8,"l":"6","x":610,"y":757},{"s":8,"l":"6","x":850,"y":762},{"s":8,"l":"6","x":1170,"y":770},{"s":8,"l":"6","x":1245,"y":860},{"s":8,"l":"6","x":1285,"y":905},{"s":8,"l":"6","x":1305,"y":1030},{"s":8,"l":"6","x":1290,"y":1100},{"s":8,"l":"6","x":1240,"y":1170},{"s":8,"l":"6","x":1150,"y":1225},{"s":8,"l":"6","x":1085,"y":1265},{"s":8,"l":"6","x":1035,"y":1310},{"s":8,"l":"6","x":960,"y":1340},{"s":8,"l":"6","x":830,"y":1320},{"s":8,"l":"6","x":780,"y":1325},{"s":8,"l":"6","x":745,"y":1335},{"s":8,"l":"6","x":690,"y":1320},{"s":8,"l":"6","x":650,"y":1335},{"s":8,"l":"6","x":540,"y":1325},{"s":8,"l":"6","x":495,"y":1300},{"s":8,"l":"6","x":490,"y":1275},{"s":8,"l":"6","x":425,"y":1245},{"s":8,"l":"6","x":300,"y":1190},{"s":8,"l":"6","x":250,"y":1110},{"s":8,"l":"6","x":235,"y":970},{"s":8,"l":"6","x":270,"y":880},{"s":8,"l":"6","x":320,"y":815},
{"s":9,"l":"7","x":760,"y":768},{"s":9,"l":"7","x":850,"y":790},{"s":9,"l":"7","x":1030,"y":800},{"s":9,"l":"7","x":1165,"y":850},{"s":9,"l":"7","x":1190,"y":910},{"s":9,"l":"7","x":1200,"y":955},{"s":9,"l":"7","x":1190,"y":1000},{"s":9,"l":"7","x":1195,"y":1040},{"s":9,"l":"7","x":1175,"y":1090},{"s":9,"l":"7","x":1080,"y":1165},{"s":9,"l":"7","x":950,"y":1210},{"s":9,"l":"7","x":820,"y":1195},{"s":9,"l":"7","x":720,"y":1205},{"s":9,"l":"7","x":560,"y":1200},{"s":9,"l":"7","x":470,"y":1175},{"s":9,"l":"7","x":370,"y":1100},{"s":9,"l":"7","x":340,"y":1050},{"s":9,"l":"7","x":335,"y":970},{"s":9,"l":"7","x":355,"y":880},{"s":9,"l":"7","x":385,"y":840},{"s":9,"l":"7","x":520,"y":795},{"s":9,"l":"7","x":650,"y":790},
{"s":10,"l":"8","x":615,"y":855},{"s":10,"l":"8","x":695,"y":862},{"s":10,"l":"8","x":725,"y":905},{"s":10,"l":"8","x":785,"y":908},{"s":10,"l":"8","x":780,"y":890},{"s":10,"l":"8","x":815,"y":880},{"s":10,"l":"8","x":820,"y":868},{"s":10,"l":"8","x":900,"y":857},{"s":10,"l":"8","x":1040,"y":890},{"s":10,"l":"8","x":1080,"y":970},{"s":10,"l":"8","x":1050,"y":1050},{"s":10,"l":"8","x":1020,"y":1080},{"s":10,"l":"8","x":945,"y":1095},{"s":10,"l":"8","x":830,"y":1070},{"s":10,"l":"8","x":745,"y":1035},{"s":10,"l":"8","x":660,"y":1070},{"s":10,"l":"8","x":580,"y":1083},{"s":10,"l":"8","x":500,"y":1060},{"s":10,"l":"8","x":455,"y":1000},{"s":10,"l":"8","x":460,"y":920},{"s":10,"l":"8","x":515,"y":875}
],
"f":[
{"s":1,"l":"1","x":860,"y":18},{"s":1,"l":"1","x":1527,"y":18},{"s":1,"l":"1","x":1527,"y":1095},{"s":1,"l":"1","x":1237,"y":1475},{"s":1,"l":"1","x":680,"y":1547},{"s":1,"l":"1","x":282,"y":1475},{"s":1,"l":"1","x":53,"y":1266},{"s":1,"l":"1","x":53,"y":746},{"s":1,"l":"1","x":747,"y":746},{"s":1,"l":"1","x":747,"y":1190},{"s":1,"l":"1","x":667,"y":1297},{"s":1,"l":"1","x":745,"y":1335},{"s":1,"l":"1","x":860,"y":1190},
{"s":2,"l":"0","x":860,"y":18},{"s":2,"l":"0","x":912,"y":18},{"s":2,"l":"0","x":945,"y":190},{"s":2,"l":"0","x":975,"y":330},{"s":2,"l":"0","x":985,"y":490},{"s":2,"l":"0","x":1023,"y":548},{"s":2,"l":"0","x":1000,"y":600},{"s":2,"l":"0","x":955,"y":640},{"s":2,"l":"0","x":940,"y":760},{"s":2,"l":"0","x":935,"y":930},{"s":2,"l":"0","x":952,"y":1040},{"s":2,"l":"0","x":900,"y":1125},{"s":2,"l":"0","x":860,"y":1145},
{"s":3,"l":"2","x":1305,"y":1018},{"s":3,"l":"2","x":1340,"y":1030},{"s":3,"l":"2","x":1372,"y":1100},{"s":3,"l":"2","x":1375,"y":1150},{"s":3,"l":"2","x":1350,"y":1290},{"s":3,"l":"2","x":1285,"y":1350},{"s":3,"l":"2","x":1290,"y":1375},{"s":3,"l":"2","x":1275,"y":1410},{"s":3,"l":"2","x":1225,"y":1450},{"s":3,"l":"2","x":1140,"y":1475},{"s":3,"l":"2","x":282,"y":1475},{"s":3,"l":"2","x":53,"y":1266},{"s":3,"l":"2","x":53,"y":746},{"s":3,"l":"2","x":747,"y":746},{"s":3,"l":"2","x":747,"y":1190},{"s":3,"l":"2","x":667,"y":1297},{"s":3,"l":"2","x":745,"y":1335},{"s":3,"l":"2","x":780,"y":1305},{"s":3,"l":"2","x":825,"y":1285},{"s":3,"l":"2","x":875,"y":1275},{"s":3,"l":"2","x":905,"y":1215},{"s":3,"l":"2","x":1030,"y":1150},{"s":3,"l":"2","x":1170,"y":1075},
{"s":4,"l":"3","x":1090,"y":1365},{"s":4,"l":"3","x":1060,"y":1325},{"s":4,"l":"3","x":985,"y":1312},{"s":4,"l":"3","x":890,"y":1330},{"s":4,"l":"3","x":800,"y":1342},{"s":4,"l":"3","x":745,"y":1335},{"s":4,"l":"3","x":667,"y":1297},{"s":4,"l":"3","x":747,"y":1190},{"s":4,"l":"3","x":747,"y":746},{"s":4,"l":"3","x":53,"y":746},{"s":4,"l":"3","x":53,"y":1266},{"s":4,"l":"3","x":180,"y":1385},{"s":4,"l":"3","x":300,"y":1440},{"s":4,"l":"3","x":480,"y":1455},{"s":4,"l":"3","x":700,"y":1455},{"s":4,"l":"3","x":920,"y":1440},{"s":4,"l":"3","x":1040,"y":1410},
{"s":5,"l":"4","x":53,"y":800},{"s":5,"l":"4","x":110,"y":760},{"s":5,"l":"4","x":700,"y":760},{"s":5,"l":"4","x":745,"y":800},{"s":5,"l":"4","x":747,"y":1190},{"s":5,"l":"4","x":667,"y":1297},{"s":5,"l":"4","x":745,"y":1335},{"s":5,"l":"4","x":785,"y":1382},{"s":5,"l":"4","x":640,"y":1392},{"s":5,"l":"4","x":500,"y":1375},{"s":5,"l":"4","x":350,"y":1365},{"s":5,"l":"4","x":230,"y":1330},{"s":5,"l":"4","x":110,"y":1250},{"s":5,"l":"4","x":53,"y":1170},
{"s":6,"l":"5","x":165,"y":810},{"s":6,"l":"5","x":380,"y":765},{"s":6,"l":"5","x":500,"y":775},{"s":6,"l":"5","x":620,"y":810},{"s":6,"l":"5","x":690,"y":875},{"s":6,"l":"5","x":715,"y":960},{"s":6,"l":"5","x":700,"y":1060},{"s":6,"l":"5","x":660,"y":1160},{"s":6,"l":"5","x":610,"y":1215},{"s":6,"l":"5","x":510,"y":1245},{"s":6,"l":"5","x":410,"y":1222},{"s":6,"l":"5","x":340,"y":1237},{"s":6,"l":"5","x":250,"y":1235},{"s":6,"l":"5","x":170,"y":1190},{"s":6,"l":"5","x":120,"y":1110},{"s":6,"l":"5","x":80,"y":975},{"s":6,"l":"5","x":110,"y":880},
{"s":7,"l":"6","x":317,"y":907},{"s":7,"l":"6","x":372,"y":958},{"s":7,"l":"6","x":355,"y":1020},{"s":7,"l":"6","x":350,"y":1050},{"s":7,"l":"6","x":320,"y":1082},{"s":7,"l":"6","x":240,"y":1075},{"s":7,"l":"6","x":215,"y":1018},{"s":7,"l":"6","x":240,"y":985},{"s":7,"l":"6","x":245,"y":945},
{"s":8,"l":"6","x":500,"y":912},{"s":8,"l":"6","x":560,"y":930},{"s":8,"l":"6","x":575,"y":980},{"s":8,"l":"6","x":592,"y":1037},{"s":8,"l":"6","x":550,"y":1080},{"s":8,"l":"6","x":480,"y":1078},{"s":8,"l":"6","x":430,"y":1025},{"s":8,"l":"6","x":418,"y":990},{"s":8,"l":"6","x":430,"y":945},
{"s":9,"l":"D0","x":282,"y":1475},{"s":9,"l":"D0","x":1237,"y":1475},{"s":9,"l":"D0","x":680,"y":1547},
{"s":10,"l":"D1","x":390,"y":1485},{"s":10,"l":"D1","x":1130,"y":1485},{"s":10,"l":"D1","x":680,"y":1547},
{"s":11,"l":"D2","x":470,"y":1498},{"s":11,"l":"D2","x":960,"y":1503},{"s":11,"l":"D2","x":680,"y":1547}
],
"bands":[{"k":"band","x":110,"x2":1426,"y":1265,"y2":1476},{"k":"strip","x":110,"x2":1426,"y":1262,"y2":1278}],
"bar":[{"l":"0","lo":0,"hi":47,"x":0,"x2":1},{"l":"1","lo":47,"hi":94,"x":0,"x2":1},{"l":"2","lo":94,"hi":141,"x":0,"x2":1},{"l":"3","lo":141,"hi":188,"x":0,"x2":1},{"l":"4","lo":188,"hi":235,"x":0,"x2":1},{"l":"5","lo":235,"hi":282,"x":0,"x2":1},{"l":"6","lo":282,"hi":329,"x":0,"x2":1},{"l":"7","lo":329,"hi":376,"x":0,"x2":1},{"l":"8","lo":376,"hi":423,"x":0,"x2":1},{"l":"9","lo":423,"hi":470,"x":0,"x2":1}],
"barEdges":[{"x":0,"lo":0,"hi":470},{"x":1,"lo":0,"hi":470}],
"captions":[{"t":"(","x":1043,"y":1957},{"t":")","x":1119,"y":1957},{"t":"(","x":2330,"y":1957},{"t":")","x":2410,"y":1957},{"t":"(","x":3617,"y":1957},{"t":")","x":3693,"y":1957},{"t":"BMCR","x":2370,"y":2067},{"t":"(","x":1043,"y":3965},{"t":")","x":1119,"y":3965},{"t":"(","x":2332,"y":3965},{"t":")","x":2408,"y":3965},{"t":"(","x":3617,"y":3965},{"t":")","x":3693,"y":3965},{"t":"75% coal consumption","x":2370,"y":4072},{"t":"[kW m","x":148,"y":1447},{"t":"]","x":346,"y":1447}],
"letters":[{"t":"a","x":1081,"y":1957},{"t":"b","x":2370,"y":1957},{"t":"c","x":3655,"y":1957},{"t":"d","x":1081,"y":3965},{"t":"e","x":2370,"y":3965},{"t":"f","x":3655,"y":3965}],
"sup":[{"t":"−2","x":305,"y":1422}]
},
"layer":[
{"data":{"name":"a"},"transform":[{"filter":"datum.s<8||datum.s>10"}],"mark":{"type":"line","stroke":null},"encoding":{"x":{"field":"x","type":"quantitative","axis":null,"scale":{"domain":[0,1568],"range":[660,1560]}},"y":{"field":"y","type":"quantitative","axis":null,"scale":{"domain":[0,1568],"range":[20,1780]}},"detail":{"field":"s"},"order":{"value":null},"fill":{"field":"l","type":"nominal","legend":null,"scale":{"domain":["0","1","2","3","4","5","6","7","8","9","V0","V1","V2","VY","D0","D1","D2"],"range":["#0033ff","#00a2ff","#00ffff","#00ffbb","#00ff68","#50ff00","#b0ff00","#ffff00","#ffab00","#ff4f00","#00d8a0","#00cc60","#3fcc00","#90dc00","#00d4b0","#00cca0","#00c864"]}}}},
{"data":{"name":"a"},"transform":[{"filter":"datum.s>=8&&datum.s<=10"}],"mark":{"type":"line","stroke":null,"interpolate":"cardinal-closed","tension":0.3},"encoding":{"x":{"field":"x","type":"quantitative","axis":null,"scale":{"domain":[0,1568],"range":[660,1560]}},"y":{"field":"y","type":"quantitative","axis":null,"scale":{"domain":[0,1568],"range":[20,1780]}},"detail":{"field":"s"},"order":{"value":null},"fill":{"field":"l","type":"nominal","legend":null}}},
{"data":{"name":"b"},"transform":[{"filter":"datum.s<9"}],"mark":{"type":"line","stroke":null},"encoding":{"x":{"field":"x","type":"quantitative","axis":null,"scale":{"domain":[0,1568],"range":[1880,2880]}},"y":{"field":"y","type":"quantitative","axis":null,"scale":{"domain":[0,1568],"range":[0,1800]}},"detail":{"field":"s"},"order":{"value":null},"fill":{"field":"l","type":"nominal","legend":null}}},
{"data":{"name":"b"},"transform":[{"filter":"datum.s>=9"}],"mark":{"type":"line","stroke":null,"interpolate":"cardinal-closed","tension":0.3},"encoding":{"x":{"field":"x","type":"quantitative","axis":null,"scale":{"domain":[0,1568],"range":[1880,2880]}},"y":{"field":"y","type":"quantitative","axis":null,"scale":{"domain":[0,1568],"range":[0,1800]}},"detail":{"field":"s"},"order":{"value":null},"fill":{"field":"l","type":"nominal","legend":null}}},
{"data":{"name":"bands"},"mark":{"type":"rect","fill":"white"},"encoding":{"x":{"field":"x","type":"quantitative","axis":null,"scale":{"domain":[0,1568],"range":[1880,2880]}},"x2":{"field":"x2"},"y":{"field":"y","type":"quantitative","axis":null,"scale":{"domain":[0,1568],"range":[0,1800]}},"y2":{"field":"y2"},"opacity":{"field":"k","type":"nominal","legend":null,"scale":{"domain":["band","strip"],"range":[0.07,0.18]}}}},
{"data":{"name":"c"},"transform":[{"filter":"datum.s<8||datum.s>10"}],"mark":{"type":"line","stroke":null},"encoding":{"x":{"field":"x","type":"quantitative","axis":null,"scale":{"domain":[0,1568],"range":[3200,4036]}},"y":{"field":"y","type":"quantitative","axis":null,"scale":{"domain":[0,1568],"range":[20,1780]}},"detail":{"field":"s"},"order":{"value":null},"fill":{"field":"l","type":"nominal","legend":null}}},
{"data":{"name":"c"},"transform":[{"filter":"datum.s>=8&&datum.s<=10"}],"mark":{"type":"line","stroke":null,"interpolate":"cardinal-closed","tension":0.3},"encoding":{"x":{"field":"x","type":"quantitative","axis":null,"scale":{"domain":[0,1568],"range":[3200,4036]}},"y":{"field":"y","type":"quantitative","axis":null,"scale":{"domain":[0,1568],"range":[20,1780]}},"detail":{"field":"s"},"order":{"value":null},"fill":{"field":"l","type":"nominal","legend":null}}},
{"data":{"name":"d"},"transform":[{"filter":"datum.s<6||datum.s>8"}],"mark":{"type":"line","stroke":null},"encoding":{"x":{"field":"x","type":"quantitative","axis":null,"scale":{"domain":[0,1568],"range":[660,1560]}},"y":{"field":"y","type":"quantitative","axis":null,"scale":{"domain":[0,1568],"range":[2095,3855]}},"detail":{"field":"s"},"order":{"value":null},"fill":{"field":"l","type":"nominal","legend":null}}},
{"data":{"name":"d"},"transform":[{"filter":"datum.s>=6&&datum.s<=8"}],"mark":{"type":"line","stroke":null,"interpolate":"cardinal-closed","tension":0.3},"encoding":{"x":{"field":"x","type":"quantitative","axis":null,"scale":{"domain":[0,1568],"range":[660,1560]}},"y":{"field":"y","type":"quantitative","axis":null,"scale":{"domain":[0,1568],"range":[2095,3855]}},"detail":{"field":"s"},"order":{"value":null},"fill":{"field":"l","type":"nominal","legend":null}}},
{"data":{"name":"e"},"transform":[{"filter":"datum.s<7"}],"mark":{"type":"line","stroke":null},"encoding":{"x":{"field":"x","type":"quantitative","axis":null,"scale":{"domain":[0,1568],"range":[1880,2880]}},"y":{"field":"y","type":"quantitative","axis":null,"scale":{"domain":[0,1568],"range":[2075,3875]}},"detail":{"field":"s"},"order":{"value":null},"fill":{"field":"l","type":"nominal","legend":null}}},
{"data":{"name":"e"},"transform":[{"filter":"datum.s>=7"}],"mark":{"type":"line","stroke":null,"interpolate":"cardinal-closed","tension":0.3},"encoding":{"x":{"field":"x","type":"quantitative","axis":null,"scale":{"domain":[0,1568],"range":[1880,2880]}},"y":{"field":"y","type":"quantitative","axis":null,"scale":{"domain":[0,1568],"range":[2075,3875]}},"detail":{"field":"s"},"order":{"value":null},"fill":{"field":"l","type":"nominal","legend":null}}},
{"data":{"name":"bands"},"mark":{"type":"rect","fill":"white"},"encoding":{"x":{"field":"x","type":"quantitative","axis":null,"scale":{"domain":[0,1568],"range":[1880,2880]}},"x2":{"field":"x2"},"y":{"field":"y","type":"quantitative","axis":null,"scale":{"domain":[0,1568],"range":[2075,3875]}},"y2":{"field":"y2"},"opacity":{"field":"k","type":"nominal","legend":null}}},
{"data":{"name":"f"},"transform":[{"filter":"datum.s<6||datum.s>8"}],"mark":{"type":"line","stroke":null},"encoding":{"x":{"field":"x","type":"quantitative","axis":null,"scale":{"domain":[0,1568],"range":[3200,4036]}},"y":{"field":"y","type":"quantitative","axis":null,"scale":{"domain":[0,1568],"range":[2095,3855]}},"detail":{"field":"s"},"order":{"value":null},"fill":{"field":"l","type":"nominal","legend":null}}},
{"data":{"name":"f"},"transform":[{"filter":"datum.s>=6&&datum.s<=8"}],"mark":{"type":"line","stroke":null,"interpolate":"cardinal-closed","tension":0.3},"encoding":{"x":{"field":"x","type":"quantitative","axis":null,"scale":{"domain":[0,1568],"range":[3200,4036]}},"y":{"field":"y","type":"quantitative","axis":null,"scale":{"domain":[0,1568],"range":[2095,3855]}},"detail":{"field":"s"},"order":{"value":null},"fill":{"field":"l","type":"nominal","legend":null}}},
{"data":{"name":"bar"},"mark":{"type":"rect"},"encoding":{"x":{"field":"x","type":"quantitative","axis":null,"scale":{"domain":[0,1],"range":[57,142]}},"x2":{"field":"x2"},"y":{"field":"lo","type":"quantitative","scale":{"domain":[0,470],"range":[2687,1503]},"axis":{"orient":"right","offset":-3894,"values":[0,47,94,141,188,235,282,329,376,423,470],"format":".2f","title":null,"domain":false,"grid":false,"ticks":true,"tickSize":16,"tickWidth":3,"tickColor":"#222222","labelPadding":26,"labelFontSize":70,"labelFont":"Liberation Sans","labelColor":"#222222","labelOverlap":false,"labelFlush":false,"labelLimit":400}},"y2":{"field":"hi"},"fill":{"field":"l","type":"nominal","legend":null}}},
{"data":{"name":"barEdges"},"mark":{"type":"rule","color":"#333333","strokeWidth":4},"encoding":{"x":{"field":"x","type":"quantitative","axis":null,"scale":{"domain":[0,1],"range":[57,142]}},"y":{"field":"lo","type":"quantitative","axis":null,"scale":{"domain":[0,470],"range":[2687,1503]}},"y2":{"field":"hi"}}},
{"data":{"name":"captions"},"mark":{"type":"text","font":"Liberation Serif","fontSize":90,"baseline":"alphabetic","align":"center","fill":"#111111"},"encoding":{"x":{"field":"x","type":"quantitative","axis":null,"scale":{"domain":[0,4036],"range":[0,4036]}},"y":{"field":"y","type":"quantitative","axis":null,"scale":{"domain":[0,4236],"range":[0,4236]}},"text":{"field":"t"}}},
{"data":{"name":"letters"},"mark":{"type":"text","font":"Liberation Serif","fontSize":90,"fontWeight":"bold","baseline":"alphabetic","align":"center","fill":"#111111"},"encoding":{"x":{"field":"x","type":"quantitative","axis":null,"scale":{"domain":[0,4036],"range":[0,4036]}},"y":{"field":"y","type":"quantitative","axis":null,"scale":{"domain":[0,4236],"range":[0,4236]}},"text":{"field":"t"}}},
{"data":{"name":"sup"},"mark":{"type":"text","font":"Liberation Serif","fontSize":52,"baseline":"alphabetic","align":"center","fill":"#111111"},"encoding":{"x":{"field":"x","type":"quantitative","axis":null,"scale":{"domain":[0,4036],"range":[0,4036]}},"y":{"field":"y","type":"quantitative","axis":null,"scale":{"domain":[0,4236],"range":[0,4236]}},"text":{"field":"t"}}}
],
"resolve":{"scale":{"x":"independent","y":"independent"},"axis":{"y":"independent"}}
}
